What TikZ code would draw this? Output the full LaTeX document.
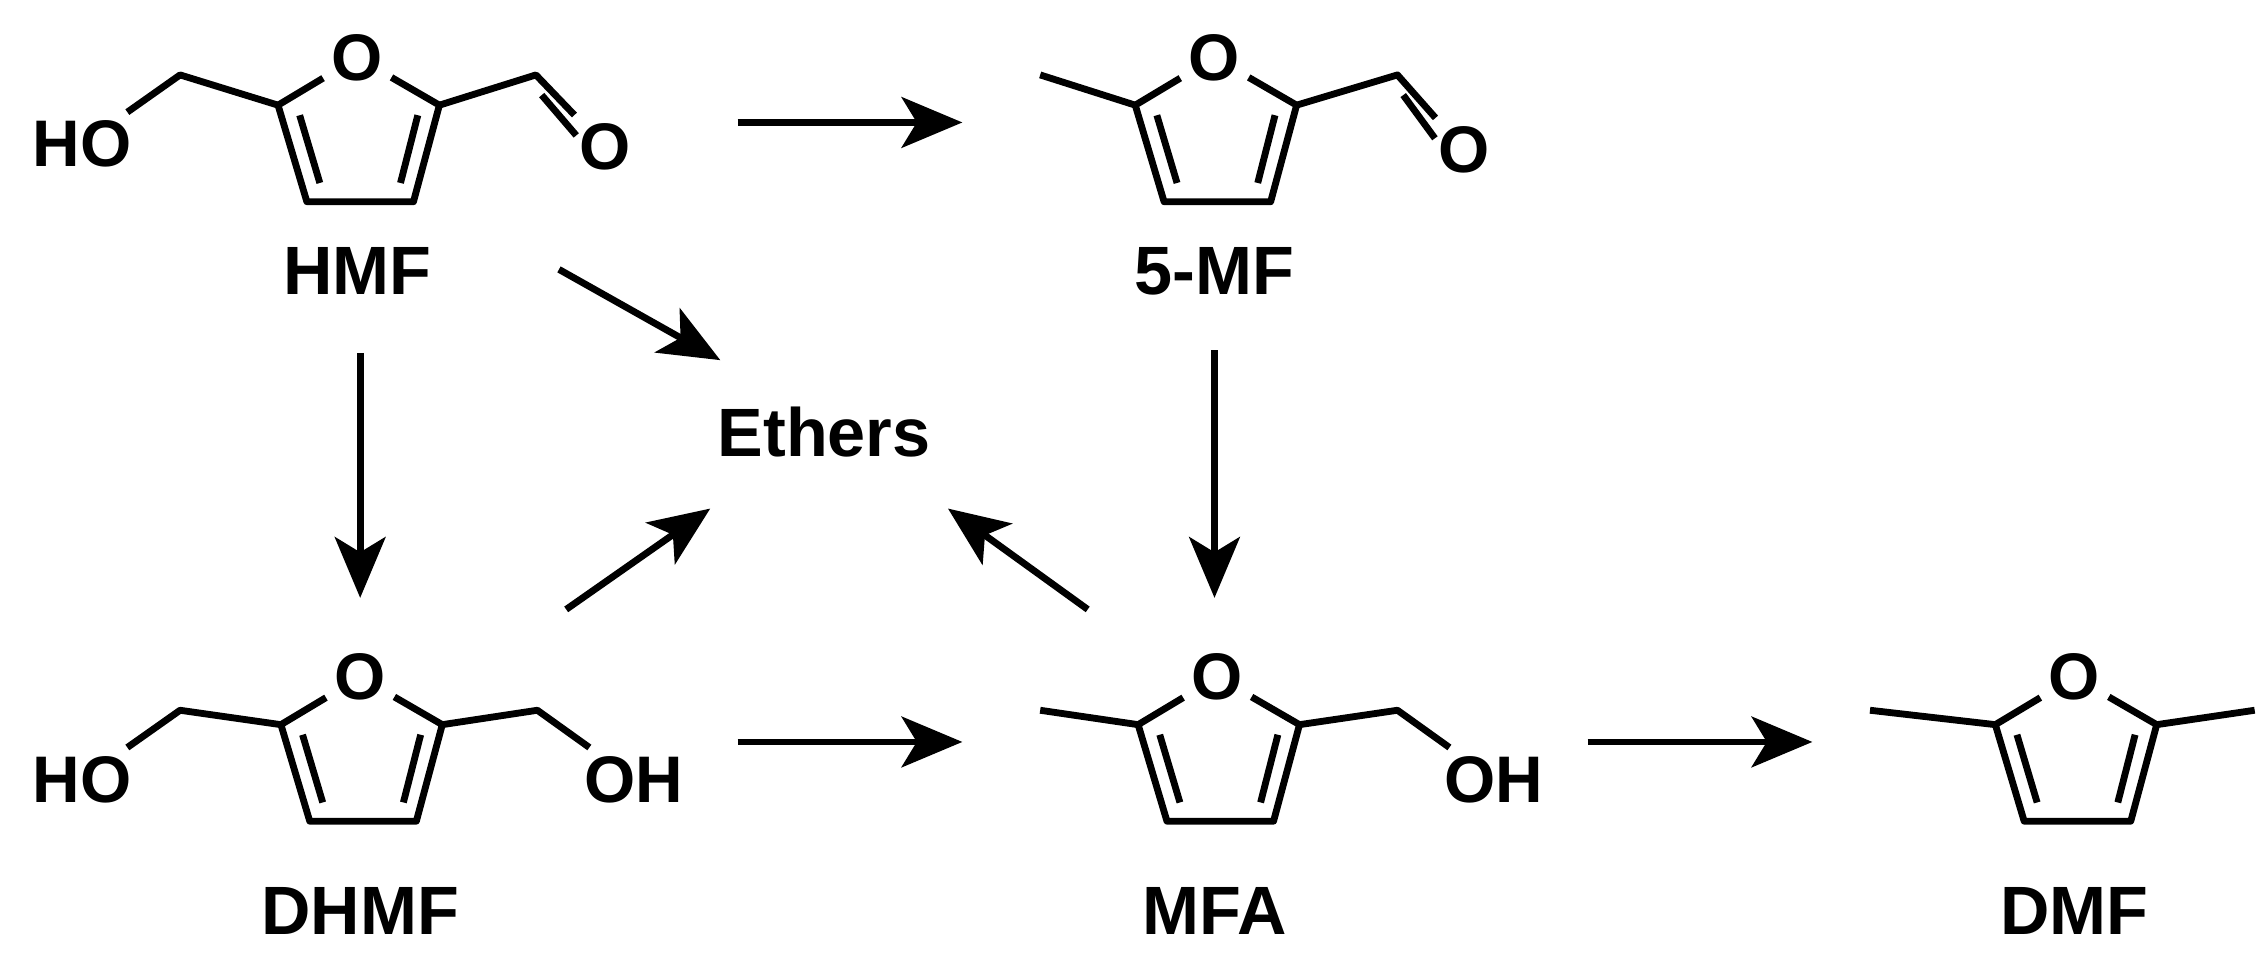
\documentclass[tikz,border=0pt]{standalone}
\usepackage{fontspec}
\setmainfont{Liberation Sans}
\usetikzlibrary{arrows.meta,calc}
\tikzset{
  bond/.style={line width=1.35pt,line join=round},
  atom/.style={font=\fontsize{13}{15}\selectfont\bfseries,inner sep=1.5pt},
  lab/.style={font=\fontsize{13.5}{16}\selectfont\bfseries,inner sep=0pt},
  rx/.style={line width=1.35pt,-{Stealth[length=12pt,width=10pt,inset=3pt]}},
}
\newcommand{\furanring}[3]{% name, x, y of O
  \node[atom] (#1O) at (#2,#3) {O};
  \begin{scope}[shift={(#2,#3)}]
  \coordinate (#1a) at (-55,33);
  \coordinate (#1b) at (-35,100);
  \coordinate (#1c) at (39,100);
  \coordinate (#1d) at (57,33);
  \draw[bond] (#1O) -- (#1a) -- (#1b) -- (#1c) -- (#1d) -- (#1O);
  \draw[bond] (-40,40) -- (-26,87);
  \draw[bond] (42,40) -- (30,87);
  \end{scope}}
\begin{document}
\begin{tikzpicture}[x=0.01cm,y=-0.01cm]
\useasboundingbox (0,0) rectangle (1568,667);
% HMF
\furanring{h}{248}{40}
\coordinate (h1) at (125,52);
\node[atom] (hHO) at (57,100) {HO};
\draw[bond] (ha) -- (h1) -- (hHO);
\coordinate (h2) at (372,52);
\node[atom] (hCO) at (420,102) {O};
\draw[bond] (hd) -- (h2) -- (hCO);
\draw[bond] ($(h2)+(4,14)$) -- ($(hCO)+(-20,-8)$);
\node[lab] (HMF) at (248,188) {HMF};
% 5-MF
\furanring{m}{843}{40}
\coordinate (m1) at (722,52);
\draw[bond] (ma) -- (m1);
\coordinate (m2) at (970,52);
\node[atom] (mCO) at (1016,104) {O};
\draw[bond] (md) -- (m2) -- (mCO);
\draw[bond] ($(m2)+(4,14)$) -- ($(mCO)+(-20,-8)$);
\node[lab] (MF) at (843,188) {5-MF};
% DHMF
\furanring{d}{250}{470}
\coordinate (d1) at (125,493);
\node[atom] (dHO) at (57,541) {HO};
\draw[bond] (da) -- (d1) -- (dHO);
\coordinate (d2) at (373,493);
\node[atom] (dOH) at (440,541) {OH};
\draw[bond] (dd) -- (d2) -- (dOH);
\node[lab] (DHMF) at (250,632) {DHMF};
% MFA
\furanring{f}{845}{470}
\coordinate (f1) at (722,493);
\draw[bond] (fa) -- (f1);
\coordinate (f2) at (970,493);
\node[atom] (fOH) at (1037,541) {OH};
\draw[bond] (fd) -- (f2) -- (fOH);
\node[lab] (MFA) at (843,632) {MFA};
% DMF
\furanring{x}{1440}{470}
\coordinate (x1) at (1298,493);
\coordinate (x2) at (1565,493);
\draw[bond] (xa) -- (x1);
\draw[bond] (xd) -- (x2);
\node[lab] (DMF) at (1440,632) {DMF};
% Ethers
\node[lab] (Eth) at (572,300) {Ethers};
% arrows
\coordinate (a1s) at (512,85); \coordinate (a1e) at (668,85);
\coordinate (a2s) at (250,245); \coordinate (a2e) at (250,415);
\coordinate (a3s) at (388,187); \coordinate (a3e) at (500,250);
\coordinate (a4s) at (393,423); \coordinate (a4e) at (493,353);
\coordinate (a5s) at (512,515); \coordinate (a5e) at (668,515);
\coordinate (a6s) at (843,243); \coordinate (a6e) at (843,415);
\coordinate (a7s) at (755,423); \coordinate (a7e) at (658,353);
\coordinate (a8s) at (1102,515); \coordinate (a8e) at (1258,515);
\foreach \i in {1,...,8} \draw[rx] (a\i s) -- (a\i e);
\end{tikzpicture}
\end{document}
